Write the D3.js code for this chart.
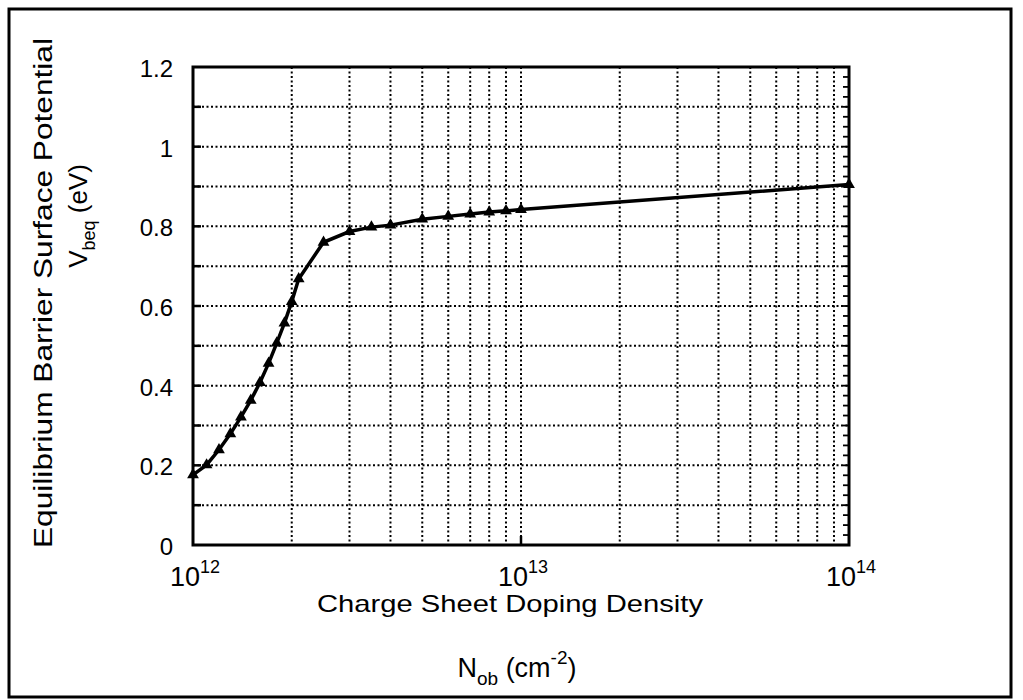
<!DOCTYPE html>
<html>
<head>
<meta charset="utf-8">
<script src="https://cdn.jsdelivr.net/npm/d3@7"></script>
<style>
  body { margin: 0; background: #fff; }
  text { font-family: "Liberation Sans", Arial, sans-serif; fill: #000; }
</style>
</head>
<body>
<div class="root"></div>
<script>
// charge sheet doping density (cm^-2)
var nob = [1.0e12, 1.1e12, 1.2e12, 1.3e12, 1.4e12, 1.5e12, 1.6e12, 1.7e12, 1.8e12, 1.9e12,
           2.0e12, 2.1e12, 2.5e12, 3.0e12, 3.5e12, 4.0e12, 5.0e12, 6.0e12, 7.0e12, 8.0e12,
           9.0e12, 1.0e13, 1.0e14];
// equilibrium barrier surface potential (eV)
var vbeq = [0.176, 0.201, 0.239, 0.279, 0.321, 0.363, 0.408, 0.456, 0.507, 0.557,
            0.611, 0.668, 0.760, 0.787, 0.798, 0.803, 0.818, 0.825, 0.831, 0.836,
            0.839, 0.842, 0.905];

var yTicks = [0, 0.2, 0.4, 0.6, 0.8, 1, 1.2];
var xTicks = [1e12, 1e13, 1e14];
var xTickExp = ['12', '13', '14'];

var width = 1023, height = 700;
var pLeft = 193, pRight = 849, pTop = 67, pBottom = 545;

var svg = d3.select('.root')
            .append('svg')
            .attr('width', width)
            .attr('height', height);

// outer frame
svg.append('rect')
   .attr('x', 9).attr('y', 9)
   .attr('width', 1002).attr('height', 688)
   .style('fill', 'none')
   .style('stroke', '#000')
   .style('stroke-width', 3);

var x = d3.scaleLog().domain([1e12, 1e14]).range([pLeft, pRight]);
var y = d3.scaleLinear().domain([0, 1.2]).range([pBottom, pTop]);

// grid
var vGrid = [];
[1e12, 1e13].forEach(function (dec) {
  for (var k = 2; k <= 9; k++) vGrid.push(k * dec);
});
vGrid.push(1e13);

var hGrid = d3.range(1, 12).map(d => d / 10);

svg.append('g').selectAll('line')
   .data(vGrid)
   .enter().append('line')
   .attr('x1', d => x(d)).attr('x2', d => x(d))
   .attr('y1', pTop).attr('y2', pBottom)
   .style('stroke', '#000')
   .style('stroke-width', 2)
   .style('stroke-dasharray', '2,2.5');

svg.append('g').selectAll('line')
   .data(hGrid)
   .enter().append('line')
   .attr('x1', pLeft).attr('x2', pRight)
   .attr('y1', d => y(d)).attr('y2', d => y(d))
   .style('stroke', '#000')
   .style('stroke-width', 2)
   .style('stroke-dasharray', '2,2.5');

// short solid ticks on the left axis
svg.append('g').selectAll('line')
   .data(hGrid)
   .enter().append('line')
   .attr('x1', pLeft).attr('x2', pLeft + 8)
   .attr('y1', d => y(d)).attr('y2', d => y(d))
   .style('stroke', '#000')
   .style('stroke-width', 2.5);

// minor ticks on the right axis
svg.append('g').selectAll('line')
   .data(d3.range(1, 48).map(d => d * 0.025))
   .enter().append('line')
   .attr('x1', pRight - 6).attr('x2', pRight)
   .attr('y1', d => y(d)).attr('y2', d => y(d))
   .style('stroke', '#000')
   .style('stroke-width', 1.8);

// tick at 10^13 on bottom axis
svg.append('line')
   .attr('x1', x(1e13)).attr('x2', x(1e13))
   .attr('y1', pBottom).attr('y2', pBottom - 9)
   .style('stroke', '#000')
   .style('stroke-width', 2.5);

// plot frame
svg.append('rect')
   .attr('x', pLeft).attr('y', pTop)
   .attr('width', pRight - pLeft).attr('height', pBottom - pTop)
   .style('fill', 'none')
   .style('stroke', '#000')
   .style('stroke-width', 3);

// y axis labels
var yAxis = d3.axisLeft(y)
              .tickValues(yTicks)
              .tickSize(0)
              .tickPadding(20)
              .tickFormat(d => String(+d.toFixed(1)));

var yAxisG = svg.append('g')
                .attr('transform', 'translate(' + pLeft + ',0)')
                .call(yAxis);
yAxisG.select('.domain').remove();
yAxisG.selectAll('text')
      .style('font-family', '"Liberation Sans", Arial, sans-serif')
      .style('font-size', '24px')
      .attr('dy', '0.4em');

// x axis labels with superscripts
var xLab = svg.append('g').selectAll('text')
   .data(xTicks)
   .enter().append('text')
   .attr('x', d => x(d) + 2)
   .attr('y', 586)
   .attr('text-anchor', 'middle')
   .style('font-size', '27px');
xLab.append('tspan').text('10');
xLab.append('tspan')
    .attr('dy', -13)
    .style('font-size', '18px')
    .text((d, i) => xTickExp[i]);

// the line and markers
var line = d3.line()
             .x((d, i) => x(nob[i]))
             .y(d => y(d));

svg.append('path')
   .datum(vbeq)
   .attr('d', line)
   .style('fill', 'none')
   .style('stroke', '#000')
   .style('stroke-width', 3.5);

svg.append('g').selectAll('path')
   .data(vbeq)
   .enter().append('path')
   .attr('d', d3.symbol(d3.symbolTriangle).size(60))
   .attr('transform', (d, i) => 'translate(' + x(nob[i]) + ',' + y(d) + ')')
   .style('fill', '#000');

// x title
svg.append('text')
   .attr('x', 510)
   .attr('y', 612)
   .attr('text-anchor', 'middle')
   .attr('textLength', 386)
   .attr('lengthAdjust', 'spacingAndGlyphs')
   .style('font-size', '24px')
   .text('Charge Sheet Doping Density');

var xSub = svg.append('text')
   .attr('x', 517)
   .attr('y', 677)
   .attr('text-anchor', 'middle')
   .style('font-size', '27px');
xSub.append('tspan').text('N');
xSub.append('tspan').attr('dy', 8).style('font-size', '19px').text('ob');
xSub.append('tspan').attr('dy', -8).text(' (cm');
xSub.append('tspan').attr('dy', -13).style('font-size', '19px').text('-2');
xSub.append('tspan').attr('dy', 13).text(')');

// y title
svg.append('text')
   .attr('transform', 'translate(52,293) rotate(-90)')
   .attr('text-anchor', 'middle')
   .attr('textLength', 510)
   .attr('lengthAdjust', 'spacingAndGlyphs')
   .style('font-size', '25px')
   .text('Equilibrium Barrier Surface Potential');

var ySub = svg.append('text')
   .attr('transform', 'translate(87,216) rotate(-90)')
   .attr('text-anchor', 'middle')
   .style('font-size', '26px');
ySub.append('tspan').text('V');
ySub.append('tspan').attr('dy', 8).style('font-size', '18px').text('beq');
ySub.append('tspan').attr('dy', -8).text(' (eV)');
</script>
</body>
</html>
